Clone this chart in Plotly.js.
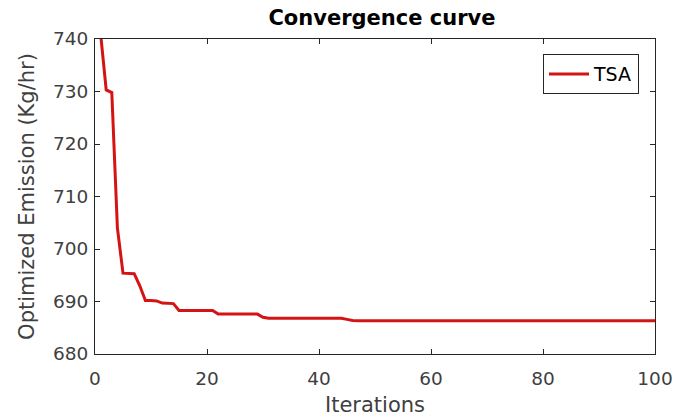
<!DOCTYPE html>
<html>
<head>
<meta charset="utf-8">
<script src="https://cdn.plot.ly/plotly-3.0.1.min.js"></script>
<style>html,body{margin:0;padding:0;background:#fff;}#chart{width:676px;height:418px;}</style>
</head>
<body>
<div id="chart"></div>
<script>
const seriesName = "TSA";
const iterations = [];
for (let i = 1; i <= 100; i++) iterations.push(i);
const emission = [
  741.0, 730.3, 729.8, 704.0, 695.4, 695.4, 695.3, 693.0, 690.2, 690.2,
  690.1, 689.7, 689.7, 689.6, 688.3, 688.3, 688.3, 688.3, 688.3, 688.3,
  688.3, 687.6, 687.6, 687.6, 687.6, 687.6, 687.6, 687.6, 687.6, 687.0,
  686.8, 686.8, 686.8, 686.8, 686.8, 686.8, 686.8, 686.8, 686.8, 686.8,
  686.8, 686.8, 686.8, 686.8, 686.6, 686.4, 686.35, 686.35, 686.35, 686.35,
  686.35, 686.35, 686.35, 686.35, 686.35, 686.35, 686.35, 686.35, 686.35, 686.35,
  686.35, 686.35, 686.35, 686.35, 686.35, 686.35, 686.35, 686.35, 686.35, 686.35,
  686.35, 686.35, 686.35, 686.35, 686.35, 686.35, 686.35, 686.35, 686.35, 686.35,
  686.35, 686.35, 686.35, 686.35, 686.35, 686.35, 686.35, 686.35, 686.35, 686.35,
  686.35, 686.35, 686.35, 686.35, 686.35, 686.35, 686.35, 686.35, 686.35, 686.35
];
const xTicks = [0, 20, 40, 60, 80, 100];
const yTicks = [680, 690, 700, 710, 720, 730, 740];

const font = "DejaVu Sans, Liberation Sans, Arial, sans-serif";
const axisCommon = {
  showline: true, mirror: 'ticks', linecolor: '#262626', linewidth: 1,
  ticks: 'inside', ticklen: 5, tickcolor: '#262626', tickwidth: 1,
  showgrid: false, zeroline: false,
  tickfont: {family: font, size: 18.5, color: '#404040'}
};
Plotly.newPlot('chart', [{
  x: iterations, y: emission, type: 'scatter', mode: 'lines', name: seriesName,
  line: {color: '#d41414', width: 3}
}], {
  width: 676, height: 418,
  margin: {l: 95, r: 21, t: 39, b: 64},
  paper_bgcolor: '#fff', plot_bgcolor: '#fff',
  title: {text: '<b>Convergence curve</b>', font: {family: font, size: 21, color: '#000'}, x: 0.565, xanchor: 'center', y: 0.957, yanchor: 'middle'},
  xaxis: Object.assign({}, axisCommon, {range: [0, 100], tickvals: xTicks, ticktext: xTicks.map(String), ticklabelstandoff: 8,
    title: {text: 'Iterations', font: {family: font, size: 21, color: '#404040'}, standoff: 9}}),
  yaxis: Object.assign({}, axisCommon, {range: [680, 740], tickvals: yTicks, ticktext: yTicks.map(String), ticklabelstandoff: 2,
    title: {text: 'Optimized Emission (Kg/hr)', font: {family: font, size: 21, color: '#404040'}, standoff: 12}}),
  showlegend: true,
  legend: {x: 0.8, y: 0.952, xanchor: 'left', yanchor: 'top', bgcolor: '#fff', bordercolor: '#262626', borderwidth: 1,
    itemwidth: 40, font: {family: font, size: 19, color: '#000'}}
}, {displayModeBar: false, staticPlot: true});
</script>
</body>
</html>
